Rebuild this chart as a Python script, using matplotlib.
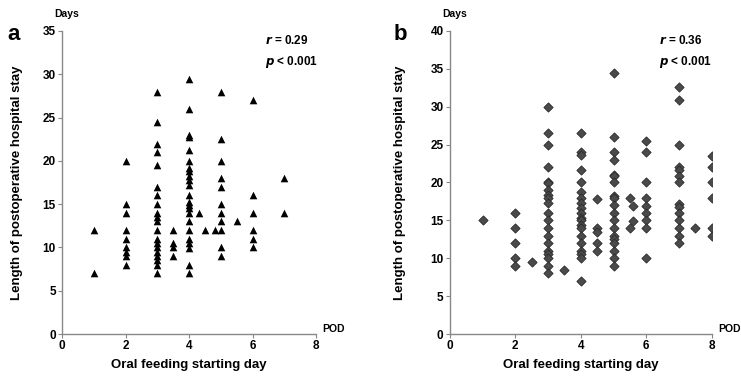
import matplotlib.pyplot as plt
import numpy as np

plt.rcParams['font.family'] = ['Liberation Sans', 'DejaVu Sans']
plt.rcParams['font.weight'] = 'bold'
plt.rcParams['axes.labelweight'] = 'bold'

# panel a: oral feeding starting day vs hospital stay (days)
a_day = [1, 1,
         2, 2, 2, 2, 2, 2, 2, 2, 2,
         3, 3, 3, 3, 3, 3, 3, 3, 3, 3, 3, 3, 3, 3, 3, 3, 3, 3, 3, 3,
         3.5, 3.5, 3.5, 3.5,
         4, 4, 4, 4, 4, 4, 4, 4, 4, 4, 4, 4, 4, 4, 4, 4, 4, 4, 4, 4, 4, 4, 4,
         4.3, 4.5, 4.8,
         5, 5, 5, 5, 5, 5, 5, 5, 5, 5, 5,
         5.5,
         6, 6, 6, 6, 6, 6,
         7, 7]
a_stay = [12, 7,
          20, 15, 14, 12, 11, 10, 9.5, 9, 8,
          28, 24.5, 22, 21, 19.5, 17, 16, 15, 14, 13.5, 13, 12, 11, 10.5, 10, 9.5, 9, 8.5, 8, 7,
          12, 10.5, 10, 9,
          29.5, 26, 23, 22.8, 21.2, 20, 19.2, 18.8, 18.2, 17.8, 17.2, 16, 15.2, 14.9, 14.6, 14, 13, 12, 11, 10.5, 9.9, 8, 7,
          14, 12, 12,
          28, 22.5, 20, 18, 17, 15, 14, 13, 12, 10, 9,
          13,
          27, 16, 14, 12, 11, 10,
          18, 14]

# panel b
b_day = [1,
         2, 2, 2, 2, 2,
         2.5,
         3, 3, 3, 3, 3, 3, 3, 3, 3, 3, 3, 3, 3, 3, 3, 3, 3, 3, 3, 3,
         3.5,
         4, 4, 4, 4, 4, 4, 4, 4, 4, 4, 4, 4, 4, 4, 4, 4, 4, 4, 4, 4,
         4.5, 4.5, 4.5, 4.5, 4.5,
         5, 5, 5, 5, 5, 5, 5, 5, 5, 5, 5, 5, 5, 5, 5, 5, 5, 5, 5,
         5.5, 5.5, 5.6, 5.6,
         6, 6, 6, 6, 6, 6, 6, 6, 6,
         7, 7, 7, 7, 7, 7, 7, 7, 7, 7, 7, 7, 7, 7,
         7.5,
         8, 8, 8, 8, 8, 8]
b_stay = [15,
          16, 14, 12, 10, 9,
          9.5,
          30, 26.5, 25, 22, 20.1, 19.9, 19, 18.4, 17.9, 17.3, 16, 15, 14, 13, 12, 11, 10.6, 10, 9, 8,
          8.5,
          26.5, 24, 23.6, 21.6, 20, 18.8, 17.9, 17.3, 16.6, 16, 15.3, 15, 14.4, 14, 13, 12, 11, 10.5, 10, 7,
          17.8, 14, 13.4, 12, 10.9,
          34.5, 26, 24, 23, 21, 20.8, 20, 18.2, 17.9, 17, 16, 15, 14, 13, 12.5, 12, 11, 10, 9,
          18, 14, 16.9, 14.9,
          25.5, 24, 20, 17.9, 16.9, 16, 15, 14, 10,
          32.6, 30.9, 25, 22, 21.7, 20.9, 20, 17.1, 16.8, 16, 15, 14, 13, 12,
          14,
          23.5, 22, 20, 17.9, 14, 13]

x_ticks = [0, 2, 4, 6, 8]

fig = plt.figure(figsize=(7.41, 3.78), dpi=100)
ax1 = fig.add_axes([0.0837, 0.1164, 0.343, 0.8016])
ax2 = fig.add_axes([0.607, 0.1164, 0.3535, 0.8016])

ax1.scatter(a_day, a_stay, marker='^', s=30, c='black', linewidths=0, zorder=3)
ax2.scatter(b_day, b_stay, marker='D', s=22, c='#4a4a4a', edgecolors='#2a2a2a',
            linewidths=0.6, zorder=3)

for ax, ymax, letter, r, ylx in [(ax1, 35, 'a', '0.29', -0.177), (ax2, 40, 'b', '0.36', -0.19)]:
    ax.set_xlim(0, 8)
    ax.set_ylim(0, ymax)
    y_ticks = list(range(0, ymax + 1, 5))
    ax.set_xticks(x_ticks, [str(t) for t in x_ticks], fontweight='bold')
    ax.set_yticks(y_ticks, [str(t) for t in y_ticks], fontweight='bold')
    for s in ['top', 'right']:
        ax.spines[s].set_visible(False)
    for s in ['left', 'bottom']:
        ax.spines[s].set_color('#888888')
        ax.spines[s].set_linewidth(1.0)
    ax.tick_params(length=3, width=0.8, color='#888888', labelsize=8.5, pad=1.5)
    ax.set_xlabel('Oral feeding starting day', fontsize=9.5, fontweight='bold')
    ax.xaxis.set_label_coords(0.5, -0.082)
    ax.set_ylabel('Length of postoperative hospital stay', fontsize=9.5,
                  fontweight='bold', va='center')
    ax.yaxis.set_label_coords(ylx, 0.5)
    ax.text(0.02, 1.04, 'Days', transform=ax.transAxes, fontsize=7.5, ha='center', va='bottom')
    ax.text(1.025, 0.0, 'POD', transform=ax.transAxes, fontsize=7.5, ha='left', va='bottom')
    ax.text(0.8, 0.99, '$\\bf{\\it{r}}$ = ' + r, transform=ax.transAxes, fontsize=8.5,
            ha='left', va='top')
    ax.text(0.8, 0.925, '$\\bf{\\it{p}}$ < 0.001', transform=ax.transAxes, fontsize=8.5,
            ha='left', va='top')
    ax.text(-0.19, 0.99, letter, transform=ax.transAxes, fontsize=16, ha='center', va='center')

plt.savefig('out.png', dpi=100)
